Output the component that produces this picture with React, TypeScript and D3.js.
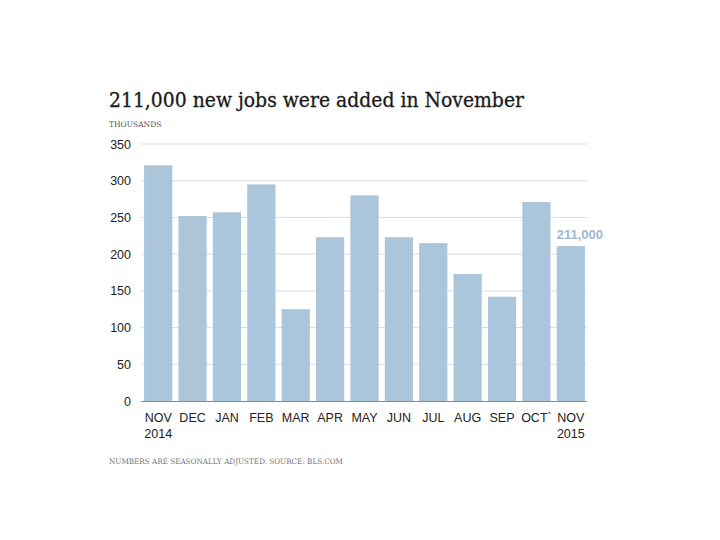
import React from "react";
import * as d3 from "d3";

const months = ["NOV", "DEC", "JAN", "FEB", "MAR", "APR", "MAY", "JUN", "JUL", "AUG", "SEP", "OCT`", "NOV"];
const years = ["2014", "", "", "", "", "", "", "", "", "", "", "", "2015"];
const jobs = [321, 252, 257, 295, 125, 223, 280, 223, 215, 173, 142, 271, 211];
const yTicks = [0, 50, 100, 150, 200, 250, 300, 350];
const title = "211,000 new jobs were added in November";
const unitLabel = "THOUSANDS";
const footnote = "NUMBERS ARE SEASONALLY ADJUSTED. SOURCE: BLS.COM";
const annotation = "211,000";

export default function App() {
  const W = 720, H = 540;
  const x = d3.scaleBand<number>().domain(d3.range(months.length)).range([141, 588]).paddingInner(0.18).paddingOuter(0.09);
  const y = d3.scaleLinear().domain([0, 350]).range([401, 144]);
  const last = jobs.length - 1;
  return (
    <svg width={W} height={H} style={{ position: "absolute", left: 0, top: 0, background: "#fff" }}>
      <text x={109} y={107} fontFamily="DejaVu Serif" fontSize={19.5} fill="#1a1a1a" stroke="#1a1a1a" strokeWidth={0.3} textLength={415} lengthAdjust="spacingAndGlyphs">{title}</text>
      <text x={109} y={127} fontFamily="DejaVu Serif" fontSize={7.5} fill="#555">{unitLabel}</text>
      {yTicks.map((t) => (
        <g key={t}>
          {t > 0 && <line x1={141} x2={587} y1={y(t)} y2={y(t)} stroke="#dcdcdc" strokeWidth={1} />}
          <text x={131} y={y(t) + 4.5} textAnchor="end" fontFamily="Liberation Sans, Arial" fontSize={12.5} fill="#222">{t}</text>
        </g>
      ))}
      {jobs.map((v, i) => (
        <rect key={i} x={x(i)} y={y(v)} width={x.bandwidth()} height={y(0) - y(v)} fill="#abc5da" />
      ))}
      <line x1={141} x2={587} y1={y(0) + 0.5} y2={y(0) + 0.5} stroke="#888" strokeWidth={1} />
      {months.map((m, i) => (
        <g key={i}>
          <text x={(x(i) as number) + x.bandwidth() / 2} y={422} textAnchor="middle" fontFamily="Liberation Sans, Arial" fontSize={12.5} fill="#222">{m}</text>
          {years[i] && (
            <text x={(x(i) as number) + x.bandwidth() / 2} y={438} textAnchor="middle" fontFamily="Liberation Sans, Arial" fontSize={12.5} fill="#222">{years[i]}</text>
          )}
        </g>
      ))}
      <text x={(x(last) as number)} y={y(jobs[last]) - 7} textAnchor="start" fontFamily="Liberation Sans, Arial" fontWeight="bold" fontSize={13} fill="#9fbad0">{annotation}</text>
      <text x={109} y={464} fontFamily="DejaVu Serif" fontSize={7.5} fill="#777" textLength={234} lengthAdjust="spacingAndGlyphs">{footnote}</text>
    </svg>
  );
}
